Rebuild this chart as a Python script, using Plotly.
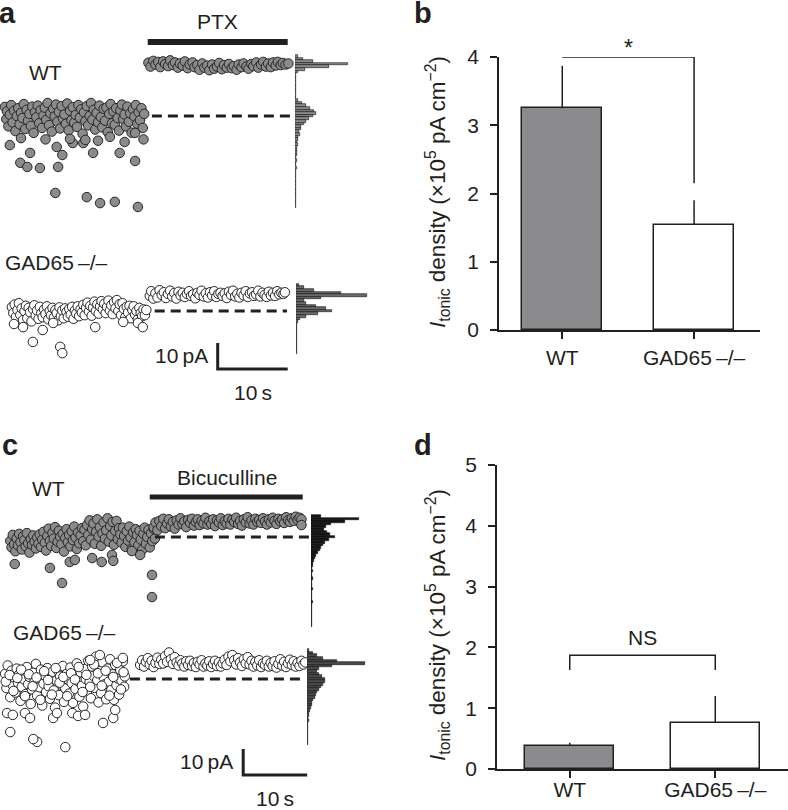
"""Tonic GABA current traces (a, c) and current density bars (b, d)"""

import plotly.graph_objects as go

W, H = 788, 810
INK = "#231f20"
FONT = "Liberation Sans, Arial, sans-serif"

# ---- panel a: all-points traces, (time s, current pA vs. baseline) ----
a_wt_base = [
    (0.7, 3.5), (0.9, -1.2), (1.0, 1.8), (1.2, -4.0), (1.4, 0.5), (1.6, 4.2), (1.8, -2.5), (2.0, 2.0),
    (2.2, -5.8), (2.4, 0.0), (2.6, 3.0), (2.8, -3.2), (3.0, 1.2), (3.2, -0.8), (3.4, 4.6), (3.6, -5.0),
    (3.8, 2.4), (4.0, -1.8), (4.2, 0.8), (4.4, -3.8), (4.6, 3.6), (4.8, -6.5), (5.0, 1.5), (5.2, -0.5),
    (5.4, 4.0), (5.6, -2.8), (5.8, 2.2), (6.0, -4.6), (6.2, 0.2), (6.4, 3.2), (6.6, -1.5), (6.8, 5.0),
    (7.0, -3.5), (7.2, 1.0), (7.4, -6.0), (7.6, 2.8), (7.8, -0.2), (8.0, 4.4), (8.2, -2.2), (8.4, 1.6),
    (8.6, -4.8), (8.8, 3.8), (9.0, -1.0), (9.2, 0.6), (9.4, -3.0), (9.6, 4.8), (9.8, -5.5), (10.0, 2.0),
    (10.2, -1.6), (10.4, 3.4), (10.6, -2.6), (10.8, 0.4), (11.0, -4.2), (11.2, 4.2), (11.4, -0.6),
    (11.6, 2.6), (11.8, -6.8), (12.0, 1.4), (12.2, -2.0), (12.4, 3.8), (12.6, -3.6), (12.8, 0.0),
    (13.0, 5.0), (13.2, -1.4), (13.4, 2.4), (13.6, -5.2), (13.8, 1.2), (14.0, -2.4), (14.2, 4.0),
    (14.4, -0.4), (14.6, -4.4), (14.8, 2.8), (15.0, -1.8), (15.2, 3.2), (15.4, -6.2), (15.6, 0.8),
    (15.8, 4.6), (16.0, -2.8), (16.2, 1.8), (16.4, -3.4), (16.6, 3.0), (16.8, -0.8), (17.0, -5.6),
    (17.2, 2.2), (17.4, 4.4), (17.6, -1.2), (17.8, 0.6), (18.0, -4.0), (18.2, 3.6), (18.4, -2.2),
    (18.6, 1.0), (18.8, -6.4), (19.0, 2.6), (19.2, -0.2), (19.4, 4.2), (19.6, -3.0), (19.8, 1.4),
    (20.0, -1.6), (20.2, 3.0), (20.4, -4.6), (20.6, 0.8),
    (1.4, -11.2), (4.3, -14.2), (2.9, -18.0), (3.9, -19.6), (5.7, -20.0), (8.1, -11.9), (8.9, -15.0),
    (8.3, -19.6), (7.9, -29.6), (12.4, -31.2), (14.3, -33.5), (16.4, -33.0), (19.7, -35.0),
    (19.3, -17.3), (17.1, -14.2), (13.3, -14.2), (11.9, -10.4), (10.4, -10.4), (15.7, -8.0),
    (19.3, -6.5), (3.0, -8.5), (6.5, -9.0), (10.0, -8.8), (14.0, -9.5), (17.8, -10.0), (20.5, -9.0),
    (12.2, -9.2),
]
a_wt_ptx = [
    (21.2, 20.5), (21.5, 19.0), (21.9, 21.2), (22.2, 19.8), (22.6, 20.8), (22.9, 18.8), (23.3, 21.0),
    (23.6, 20.0), (24.0, 19.2), (24.3, 21.4), (24.7, 19.6), (25.0, 20.6), (25.4, 18.6), (25.7, 20.2),
    (26.1, 19.4), (26.4, 21.0), (26.8, 18.4), (27.1, 19.8), (27.5, 20.6), (27.8, 18.8), (28.2, 19.6),
    (28.5, 17.8), (28.9, 20.2), (29.2, 18.6), (29.6, 19.4), (29.9, 17.6), (30.3, 19.8), (30.6, 18.2),
    (31.0, 19.0), (31.3, 20.4), (31.7, 18.0), (32.0, 19.6), (32.4, 18.6), (32.7, 20.0), (33.1, 18.4),
    (33.4, 19.2), (33.8, 17.8), (34.1, 19.8), (34.5, 18.8), (34.8, 20.2), (35.2, 19.0), (35.5, 18.2),
    (35.9, 20.0), (36.2, 19.2), (36.6, 20.6), (36.9, 18.6), (37.3, 19.8), (37.6, 20.8), (38.0, 19.0),
    (38.3, 20.2), (38.7, 18.8), (39.0, 20.6), (39.4, 19.4), (39.7, 20.8), (40.1, 19.6), (40.4, 20.4),
    (40.8, 19.8), (41.2, 20.2),
]
a_gad_base = [
    (1.7, 1.5), (1.9, -0.8), (2.1, 2.5), (2.3, -2.2), (2.5, 0.4), (2.7, 3.0), (2.9, -1.5), (3.1, 1.0),
    (3.3, -3.5), (3.5, 0.0), (3.7, 2.0), (3.9, -2.8), (4.1, 1.2), (4.3, -0.5), (4.5, -4.0), (4.7, 0.8),
    (4.9, 2.2), (5.1, -1.8), (5.3, 0.2), (5.5, -3.0), (5.7, 1.6), (5.9, -0.9), (6.1, -2.4), (6.3, 0.6),
    (6.5, -1.2), (6.7, 1.8), (6.9, -3.2), (7.1, 0.0), (7.3, -1.6), (7.5, 1.2), (7.7, -2.6), (7.9, 0.4),
    (8.1, -0.8), (8.3, -3.6), (8.5, 1.4), (8.7, -1.9), (8.9, 0.2), (9.1, -2.8), (9.3, 1.0), (9.5, -0.4),
    (9.7, -2.2), (9.9, 0.8), (10.1, -1.4), (10.3, 1.6), (10.5, -3.0), (10.7, 0.2), (10.9, -1.0),
    (11.1, 1.8), (11.3, -2.0), (11.5, 0.6), (11.7, -0.6), (11.9, 2.4), (12.1, -1.6), (12.3, 1.2),
    (12.5, 3.2), (12.7, -0.2), (12.9, 2.0), (13.1, -1.8), (13.3, 1.4), (13.5, 3.6), (13.7, 0.0),
    (13.9, 2.6), (14.1, -1.0), (14.3, 1.8), (14.5, 3.8), (14.7, 0.6), (14.9, 2.8), (15.1, -0.8),
    (15.3, 1.6), (15.5, 4.0), (15.7, 0.2), (15.9, 2.2), (16.1, -1.2), (16.3, 3.4), (16.5, 1.0),
    (16.7, 4.2), (16.9, 0.0), (17.1, 2.6), (17.3, -1.6), (17.5, 3.0), (17.7, 0.8), (17.9, -2.4),
    (18.1, 1.6), (18.3, -0.6), (18.5, 2.0), (18.7, -2.8), (18.9, 0.4), (19.1, 1.8), (19.3, -1.4),
    (19.5, 0.0), (19.7, -3.2), (19.9, 1.2), (20.1, -0.8), (20.3, -2.0), (20.5, 0.6), (20.7, -1.6),
    (20.9, 0.4),
    (4.7, -11.9), (8.6, -13.8), (8.9, -16.2), (3.3, -6.2), (6.1, -7.3), (13.6, -6.2), (19.7, -4.6),
    (20.4, -6.2), (17.6, -4.2), (7.6, -4.6), (2.0, -5.0),
]
a_gad_ptx = [
    (21.4, 5.8), (21.6, 7.6), (21.9, 4.8), (22.2, 6.8), (22.5, 5.2), (22.8, 8.0), (23.1, 6.2),
    (23.4, 7.2), (23.7, 5.0), (24.0, 6.6), (24.3, 7.8), (24.6, 5.6), (24.9, 6.9), (25.2, 4.8),
    (25.5, 7.4), (25.8, 6.0), (26.1, 7.0), (26.4, 5.4), (26.7, 6.6), (27.0, 7.6), (27.3, 5.8),
    (27.6, 6.4), (27.9, 4.9), (28.2, 7.0), (28.5, 6.2), (28.8, 7.8), (29.1, 5.6), (29.4, 6.8),
    (29.7, 5.2), (30.0, 7.2), (30.3, 6.0), (30.6, 7.6), (30.9, 5.4), (31.2, 6.6), (31.5, 7.0),
    (31.8, 5.8), (32.1, 6.8), (32.4, 5.0), (32.7, 7.4), (33.0, 6.2), (33.3, 7.8), (33.6, 5.6),
    (33.9, 6.6), (34.2, 5.2), (34.5, 7.0), (34.8, 6.0), (35.1, 7.6), (35.4, 5.4), (35.7, 6.8),
    (36.0, 7.2), (36.3, 5.8), (36.6, 6.4), (36.9, 7.8), (37.2, 5.6), (37.5, 7.0), (37.8, 6.2),
    (38.1, 5.4), (38.4, 7.4), (38.7, 6.0), (39.0, 7.0), (39.3, 5.8), (39.6, 7.6), (39.9, 6.4),
    (40.2, 7.0), (40.5, 6.6), (40.7, 7.2),
]
a_ptx_on = (21.1, 41.1)
a_wt_dash = (21.7, 43.9)
a_gad_dash = (22.1, 41.0)
# all-points histograms: 1 pA bins, first bin centre given, counts downwards
a_wt_hist_top = 23
a_wt_hist = [3, 8, 18, 53, 34, 10, 3, 1, 0.6, 0.6, 0.6, 0.6, 0.6, 0.6, 0.6, 0.6,
             1, 3, 7, 11, 15, 19, 21, 18, 14, 11, 9, 6, 6, 4, 5, 3, 3, 2, 3, 2, 2, 1.5, 2, 1,
             1.5, 1, 1, 1.5, 1, 1, 1, 1, 1, 1, 1, 1, 1, 1, 1, 1, 1, 1, 1]
a_gad_hist_top = 10
a_gad_hist = [3, 8, 18, 45, 71, 25, 8, 10, 20, 30, 36, 22, 10, 4, 2,
              1, 1, 1, 1, 1, 1, 1, 1, 1, 1, 1, 1]
a_scale_at = (31.1, -22.3)

# ---- panel c ----
c_wt_base = [
    (1.6, -1.5), (1.8, -4.0), (2.0, 0.8), (2.2, -2.8), (2.4, -5.5), (2.6, -0.5), (2.8, -3.2), (3.0, 1.2),
    (3.2, -2.0), (3.4, -4.8), (3.6, 0.2), (3.8, -1.2), (4.0, -3.6), (4.2, 1.5), (4.4, -2.4), (4.6, -6.0),
    (4.8, -0.8), (5.0, -3.0), (5.2, 0.6), (5.4, -1.8), (5.6, -4.4), (5.8, -0.2), (6.0, -2.6), (6.2, 1.0),
    (6.4, -3.8), (6.6, -1.0),
    (6.8, 2.0), (7.0, -2.2), (7.2, -5.2), (7.4, 0.4), (7.6, 3.2), (7.8, -1.4), (8.0, -3.4), (8.2, 1.6),
    (8.4, -0.6), (8.6, 3.8), (8.8, -4.2), (9.0, -1.8), (9.2, 2.4), (9.4, 0.0), (9.6, -2.8), (9.8, 1.2),
    (10.0, -5.6), (10.2, -0.4), (10.4, 3.0), (10.6, -2.0), (10.8, 0.8), (11.0, -3.6), (11.2, 2.2),
    (11.4, -1.2), (11.6, 4.0), (11.8, -0.2), (12.0, -4.6), (12.2, 1.8), (12.4, -2.4), (12.6, 0.6),
    (12.8, 3.4), (13.0, -1.6), (13.2, 2.8), (13.4, -3.2),
    (13.6, 4.6), (13.8, 0.8), (14.0, 6.4), (14.2, -1.0), (14.4, 3.0), (14.6, 5.2), (14.8, -2.6),
    (15.0, 2.0), (15.2, 6.8), (15.4, 0.2), (15.6, 3.8), (15.8, -3.4), (16.0, 1.4), (16.2, 5.6),
    (16.4, -0.6), (16.6, 2.6), (16.8, 7.2), (17.0, -1.8), (17.2, 4.2), (17.4, 0.6), (17.6, 5.8),
    (17.8, -3.0), (18.0, 2.4), (18.2, 6.2), (18.4, -0.8), (18.6, 3.4), (18.8, 1.0), (19.0, -2.2),
    (19.2, 3.6), (19.4, 0.4), (19.6, -3.8), (19.8, 2.2), (20.0, -1.4), (20.2, 4.0), (20.4, -0.2),
    (20.6, -4.6), (20.8, 1.8), (21.0, -2.0), (21.2, 3.0), (21.4, 0.8), (21.6, -3.2), (21.8, 2.4),
    (22.0, -1.0), (22.2, -5.0), (22.4, 1.2), (22.6, 3.6), (22.8, -2.6), (23.0, 0.0), (23.2, 2.8),
    (23.4, -4.0), (23.6, 1.4), (23.8, -1.6), (24.0, 3.2), (24.2, -0.6),
    (2.3, -10.4), (7.8, -11.9), (9.7, -17.7), (10.9, -9.6), (11.7, -8.8), (14.4, -8.1), (15.9, -9.6),
    (17.5, -6.9), (17.7, -9.2), (23.75, -14.6), (23.75, -23.1), (20.6, -5.4), (21.9, -6.9),
]
c_wt_bic = [
    (24.0, 3.8), (24.3, 5.6), (24.6, 2.6), (24.9, 6.2), (25.2, 4.2), (25.5, 7.0), (25.8, 3.4),
    (26.1, 5.2), (26.4, 6.8), (26.7, 4.0), (27.0, 5.8), (27.3, 3.2), (27.6, 6.4), (27.9, 4.8),
    (28.2, 7.2), (28.5, 5.0), (28.8, 6.0), (29.1, 3.8), (29.4, 6.6), (29.7, 5.4), (30.0, 7.0),
    (30.3, 4.4), (30.6, 5.8), (30.9, 6.8), (31.2, 4.6), (31.5, 6.2), (31.8, 5.2), (32.1, 7.4),
    (32.4, 4.8), (32.7, 6.0), (33.0, 5.0), (33.3, 6.8), (33.6, 4.2), (33.9, 6.4), (34.2, 5.6),
    (34.5, 7.2), (34.8, 4.6), (35.1, 6.0), (35.4, 5.2), (35.7, 7.0), (36.0, 4.8), (36.3, 6.6),
    (36.6, 5.8), (36.9, 7.4), (37.2, 5.0), (37.5, 6.2), (37.8, 4.4), (38.1, 6.8), (38.4, 5.6),
    (38.7, 7.6), (39.0, 5.2), (39.3, 6.4), (39.6, 4.8), (39.9, 7.0), (40.2, 5.8), (40.5, 6.6),
    (40.8, 5.4), (41.1, 7.2), (41.4, 6.0), (41.7, 4.8), (42.0, 6.8), (42.3, 5.6), (42.6, 7.4),
    (42.9, 6.2), (43.2, 5.0), (43.5, 7.0), (43.8, 6.0), (44.1, 6.8), (44.4, 5.4), (44.7, 7.6),
    (45.0, 6.4), (45.3, 5.8), (45.6, 7.2), (45.9, 6.2), (46.2, 7.8), (46.5, 6.6), (46.8, 7.4),
    (47.1, 6.8), (47.1, 4.6),
]
c_gad_base = [
    (0.8, 2.0), (1.0, -3.5), (1.2, 5.2), (1.4, -0.8), (1.6, -7.0), (1.8, 3.2), (2.0, -2.4), (2.2, 0.6),
    (2.4, -5.2), (2.6, 4.0), (2.8, -1.4), (3.0, 1.8), (3.2, -8.4), (3.4, -3.0), (3.6, 2.8), (3.8, -0.2),
    (4.0, -5.8), (4.2, 4.6), (4.4, -2.0), (4.6, 0.8), (4.8, -9.6), (5.0, -4.0), (5.2, 2.4), (5.4, -1.0),
    (5.6, 5.8), (5.8, -6.4), (6.0, 0.2), (6.2, -3.2), (6.4, 3.6), (6.6, -10.2), (6.8, -1.8), (7.0, 1.4),
    (7.2, -5.0), (7.4, 4.2), (7.6, -2.8), (7.8, -7.6), (8.0, 0.4), (8.2, 2.8), (8.4, -4.4), (8.6, -11.0),
    (8.8, -0.6), (9.0, 3.4), (9.2, -6.2), (9.4, 1.0), (9.6, -2.2), (9.8, 5.0), (10.0, -8.8),
    (10.2, -3.6), (10.4, 2.0), (10.6, -0.2), (10.8, -5.6), (11.0, 4.4), (11.2, -1.6), (11.4, -9.2),
    (11.6, 1.6), (11.8, -3.8), (12.0, 6.0), (12.2, -0.8), (12.4, -6.8), (12.6, 2.6), (12.8, -2.6),
    (13.0, -10.6), (13.2, 3.8), (13.4, 0.0), (13.6, -4.8), (13.8, 7.0), (14.0, -1.2), (14.2, -7.4),
    (14.4, 4.8), (14.6, 1.2), (14.8, -3.4), (15.0, 8.6), (15.2, -0.4), (15.4, -9.0), (15.6, 3.0),
    (15.8, -5.4), (16.0, 6.4), (16.2, 0.6), (16.4, -2.0), (16.6, -7.8), (16.8, 4.0), (17.0, -1.0),
    (17.2, 7.6), (17.4, -4.2), (17.6, 1.8), (17.8, -8.0), (18.0, 5.4), (18.2, -2.4), (18.4, 0.2),
    (18.6, -6.0), (18.8, 3.4), (19.0, -0.6), (19.2, 6.8), (19.4, -3.0), (19.5, 1.0),
    (0.9, -1.0), (1.5, 1.5), (2.1, -4.6), (2.7, 0.4), (3.3, 3.6), (3.9, -6.6), (4.5, 1.8), (5.1, -2.8),
    (5.7, 0.6), (6.3, -8.0), (6.9, 3.0), (7.5, -0.4), (8.1, -6.0), (8.7, 4.2), (9.3, -1.4), (9.9, 0.8),
    (10.5, -6.6), (11.1, 2.2), (11.7, -0.2), (12.3, 4.6), (12.9, -5.0), (13.5, 1.6), (14.1, -3.0),
    (14.7, 5.6), (15.3, 2.2), (15.9, -2.6), (16.5, 3.2), (17.1, -6.4), (17.7, 0.8), (18.3, 6.2),
    (18.9, -4.0), (19.3, 2.6),
    (1.6, -20.4), (5.8, -24.2), (10.2, -26.2), (5.2, -23.1), (1.1, -13.1), (2.0, -13.8), (3.9, -13.1),
    (4.7, -15.0), (8.3, -15.0), (8.9, -13.1), (11.3, -13.1), (12.2, -14.2), (13.3, -13.8),
    (16.1, -16.9), (17.7, -15.0), (18.0, -11.9), (15.6, 9.2), (14.1, 7.3), (19.2, 8.1),
]
c_gad_bic = [
    (21.9, 5.4), (22.2, 7.2), (22.5, 4.8), (22.8, 6.6), (23.1, 8.0), (23.4, 5.6), (23.7, 7.0),
    (24.0, 4.6), (24.3, 6.2), (24.6, 8.2), (24.9, 5.8), (25.2, 7.4), (25.5, 6.0), (25.8, 8.8),
    (26.1, 6.6), (26.4, 10.2), (26.7, 7.6), (27.0, 5.8), (27.3, 8.4), (27.6, 6.4), (27.9, 5.2),
    (28.2, 7.2), (28.5, 6.0), (28.8, 4.8), (29.1, 6.8), (29.4, 5.4), (29.7, 7.0), (30.0, 5.0),
    (30.3, 6.2), (30.6, 4.6), (30.9, 6.6), (31.2, 5.6), (31.5, 7.2), (31.8, 4.8), (32.1, 6.0),
    (32.4, 5.2), (32.7, 6.8), (33.0, 4.6), (33.3, 5.8), (33.6, 7.0), (33.9, 5.0), (34.2, 6.4),
    (34.5, 4.8), (34.8, 6.0), (35.1, 7.4), (35.4, 5.4), (35.7, 8.6), (36.0, 6.8), (36.3, 9.2),
    (36.6, 7.2), (36.9, 5.6), (37.2, 8.0), (37.5, 6.4), (37.8, 5.0), (38.1, 7.6), (38.4, 6.0),
    (38.7, 8.4), (39.0, 5.6), (39.3, 7.0), (39.6, 4.8), (39.9, 6.6), (40.2, 5.2), (40.5, 7.2),
    (40.8, 4.6), (41.1, 6.0), (41.4, 5.4), (41.7, 7.0), (42.0, 4.8), (42.3, 6.2), (42.6, 5.0),
    (42.9, 6.8), (43.2, 4.4), (43.5, 5.8), (43.8, 7.6), (44.1, 5.2), (44.4, 6.6), (44.7, 4.6),
    (45.0, 6.0), (45.3, 7.4), (45.6, 5.4), (45.9, 6.8), (46.2, 4.8), (46.5, 6.2), (46.8, 5.0),
    (47.1, 7.0), (47.4, 5.6), (47.7, 6.4),
]
c_bic_on = (23.4, 47.3)
c_wt_dash = (24.2, 48.4)
c_gad_dash = (20.3, 47.7)
c_wt_hist_top = 8
c_wt_hist = [10, 48, 34, 20, 15, 13, 16, 19, 24, 18, 14, 12, 10, 9, 7, 5, 4, 3, 2, 1.5,
             1, 1.5, 1, 1, 1.5, 1, 1, 1, 1.5, 1, 1, 1, 1, 1.5, 1, 1, 1, 1, 1, 1, 1, 1, 1]
c_gad_hist_top = 11
c_gad_hist = [2, 6, 10, 16, 30, 58, 25, 12, 10, 12, 15, 18, 18, 16, 14, 12, 10, 9, 8, 6,
              5, 5, 4, 3, 2, 1.5, 1, 1.5, 1, 1, 1, 1, 1, 1, 1, 1, 1]
c_scale_at = (38.0, -36.9)
SCALE_S, SCALE_PA = 10, 10

# ---- panels b, d: I_tonic density (x10^5 pA cm^-2), mean + s.e.m. ----
groups = ["WT", "GAD65\u2009\u2013/\u2013"]
bar_fill = ["#8b8b8d", "#ffffff"]
b_mean = [3.25, 1.54]
b_sem = [0.62, 0.36]
b_bracket = ([0, 1, 1], [4.0, 4.0, 2.15])
d_mean = [0.38, 0.76]
d_sem = [0.05, 0.44]
d_bracket = ([0, 0, 1, 1], [1.63, 1.87, 1.87, 1.63])


def fx(p):
    return p / W


def fy(p):
    return 1 - p / H


def sfx(n):
    return "" if n == 1 else str(n)


layout = {}


def trace_axes(n, left, right, top, bottom, s_px, zero, pa_px):
    layout[f"xaxis{sfx(n)}"] = dict(domain=[fx(left), fx(right)], range=[left / s_px, right / s_px],
                                    visible=False, anchor=f"y{sfx(n)}", automargin=False)
    layout[f"yaxis{sfx(n)}"] = dict(domain=[fy(bottom), fy(top)],
                                    range=[(zero - bottom) / pa_px, (zero - top) / pa_px],
                                    visible=False, anchor=f"x{sfx(n)}", automargin=False)


def hist_axes(n, yn, left, right):
    layout[f"xaxis{n}"] = dict(domain=[fx(left), fx(right)], range=[0, right - left],
                               visible=False, anchor=f"y{sfx(yn)}", automargin=False)


def bar_axes(n, left, right, top, bottom, xr, ymax, x_standoff):
    tick = dict(showline=True, linecolor=INK, linewidth=1.5, ticks="outside", ticklen=7,
                tickwidth=1.5, tickcolor=INK, showgrid=False, zeroline=False, automargin=False,
                tickfont=dict(size=21, color=INK, family=FONT))
    layout[f"xaxis{n}"] = dict(tick, domain=[fx(left), fx(right)], range=xr, tickvals=[0, 1],
                               ticktext=groups, anchor=f"y{n}", ticklabelstandoff=x_standoff)
    layout[f"yaxis{n}"] = dict(tick, domain=[fy(bottom), fy(top)], range=[0, ymax],
                               tickvals=list(range(ymax + 1)), anchor=f"x{n}", ticklabelstandoff=7)


trace_axes(1, 0, 310, 30, 215, 7.0, 116, 2.6)
hist_axes(2, 1, 295, 375)
trace_axes(3, 0, 310, 278, 375, 7.0, 311, 2.6)
hist_axes(4, 3, 296, 376)
bar_axes(5, 499, 760, 57, 330, [-0.48, 1.5], 4, 1)
trace_axes(6, 0, 320, 490, 632, 6.4, 537, 2.6)
hist_axes(7, 6, 311, 371)
trace_axes(8, 0, 320, 640, 810, 6.4, 679, 2.6)
hist_axes(9, 8, 307, 372)
bar_axes(10, 497, 788, 465, 769, [-0.5, 1.5], 5, -6)

fig = go.Figure()


def dots(pts, n, fill):
    fig.add_trace(go.Scatter(
        x=[p[0] for p in pts], y=[p[1] for p in pts], mode="markers",
        xaxis=f"x{sfx(n)}", yaxis=f"y{sfx(n)}", cliponaxis=False,
        marker=dict(size=9.5, color=fill, line=dict(color="#262626", width=1)),
    ))


def hist(counts, top, xn, yn, fill):
    bins = [top - i for i in range(len(counts))]
    fig.add_trace(go.Bar(
        y=bins, x=counts, orientation="h", width=1, xaxis=f"x{xn}", yaxis=f"y{sfx(yn)}",
        marker=dict(color=fill, line=dict(color="#111111", width=0.6)),
    ))


def dashed(span, n):
    fig.add_trace(go.Scatter(
        x=list(span), y=[0, 0], mode="lines", xaxis=f"x{sfx(n)}", yaxis=f"y{sfx(n)}",
        line=dict(color=INK, width=3, dash="10px,6px"), cliponaxis=False,
    ))


def scale_bar(at, n):
    t0, p0 = at
    fig.add_trace(go.Scatter(
        x=[t0, t0, t0 + SCALE_S], y=[p0 + SCALE_PA, p0, p0], mode="lines",
        xaxis=f"x{n}", yaxis=f"y{n}", line=dict(color=INK, width=3), cliponaxis=False,
    ))


def bars(mean, sem, bracket, n):
    fig.add_trace(go.Bar(
        x=[0, 1], y=mean, width=0.61, xaxis=f"x{n}", yaxis=f"y{n}",
        marker=dict(color=bar_fill, line=dict(color=INK, width=1.5)),
        error_y=dict(type="data", symmetric=False, array=sem, arrayminus=[0, 0],
                     width=0, thickness=1.5, color=INK),
    ))
    fig.add_trace(go.Scatter(
        x=bracket[0], y=bracket[1], mode="lines", xaxis=f"x{n}", yaxis=f"y{n}",
        line=dict(color=INK, width=1.5), cliponaxis=False,
    ))


# panel a
hist(a_wt_hist, a_wt_hist_top, 2, 1, "#8a8a8a")
hist(a_gad_hist, a_gad_hist_top, 4, 3, "#6a6a6a")
dots(a_wt_base, 1, "#8b8b8d")
dots(a_wt_ptx, 1, "#8b8b8d")
dots(a_gad_base, 3, "#ffffff")
dots(a_gad_ptx, 3, "#ffffff")
dashed(a_wt_dash, 1)
dashed(a_gad_dash, 3)
scale_bar(a_scale_at, 3)

# panel c
hist(c_wt_hist, c_wt_hist_top, 7, 6, "#151515")
hist(c_gad_hist, c_gad_hist_top, 9, 8, "#4a4a4a")
dots(c_wt_base, 6, "#8b8b8d")
dots(c_wt_bic, 6, "#8b8b8d")
dots(c_gad_base, 8, "#ffffff")
dots(c_gad_bic, 8, "#ffffff")
dashed(c_wt_dash, 6)
dashed(c_gad_dash, 8)
scale_bar(c_scale_at, 8)

# panels b, d
bars(b_mean, b_sem, b_bracket, 5)
bars(d_mean, d_sem, d_bracket, 10)


def label(text, x, y, size=21, anchor="center", bold=False, angle=0):
    if bold:
        text = f"<b>{text}</b>"
    return dict(text=text, x=fx(x), y=fy(y), xref="paper", yref="paper", showarrow=False,
                xanchor=anchor, yanchor="middle", textangle=angle,
                font=dict(size=size, color=INK, family=FONT))


ytitle = "<i>I</i><sub>tonic</sub> density (\u00d710<sup>5</sup> pA cm<sup>\u22122</sup>)"
annotations = [
    label("a", 8, 13, 29, bold=True),
    label("b", 423, 13, 29, bold=True),
    label("c", 10, 445, 29, bold=True),
    label("d", 423, 445, 29, bold=True),
    label("PTX", 217, 22),
    label("WT", 45, 72),
    label(groups[1], 3, 263, anchor="left"),
    label("Bicuculline", 227, 477),
    label("WT", 48, 488),
    label(groups[1], 11, 632, anchor="left"),
    label("*", 628, 48, 23),
    label("NS", 642, 637),
    label(ytitle, 437, 192, 22.5, angle=-90),
    label(ytitle, 437, 625, 22.5, angle=-90),
]
for at, n in [(a_scale_at, 3), (c_scale_at, 8)]:
    t0, p0 = at
    annotations.append(dict(text="10\u2009pA", x=t0, y=p0 + SCALE_PA / 2, xref=f"x{n}", yref=f"y{n}",
                            showarrow=False, xanchor="right", xshift=-8,
                            font=dict(size=21, color=INK, family=FONT)))
    annotations.append(dict(text="10\u2009s", x=t0 + SCALE_S / 2, y=p0, xref=f"x{n}", yref=f"y{n}",
                            showarrow=False, yanchor="top", yshift=-10,
                            font=dict(size=21, color=INK, family=FONT)))

shapes = [
    dict(type="line", xref="x", yref="paper", x0=a_ptx_on[0], x1=a_ptx_on[1],
         y0=fy(42), y1=fy(42), line=dict(color=INK, width=6)),
    dict(type="line", xref="x6", yref="paper", x0=c_bic_on[0], x1=c_bic_on[1],
         y0=fy(497), y1=fy(497), line=dict(color=INK, width=5)),
]

fig.update_layout(
    **layout,
    width=W, height=H, autosize=False,
    margin=dict(l=0, r=0, t=0, b=0, pad=0),
    paper_bgcolor="white", plot_bgcolor="rgba(0,0,0,0)",
    showlegend=False, barmode="overlay", bargap=0,
    font=dict(family=FONT, color=INK),
    annotations=annotations, shapes=shapes,
)
# the page body has an 8px default margin; drop it so the figure fills the window
fig.write_html("out.html", config={"displayModeBar": False},
               post_script="document.body.style.margin = '0px';")
